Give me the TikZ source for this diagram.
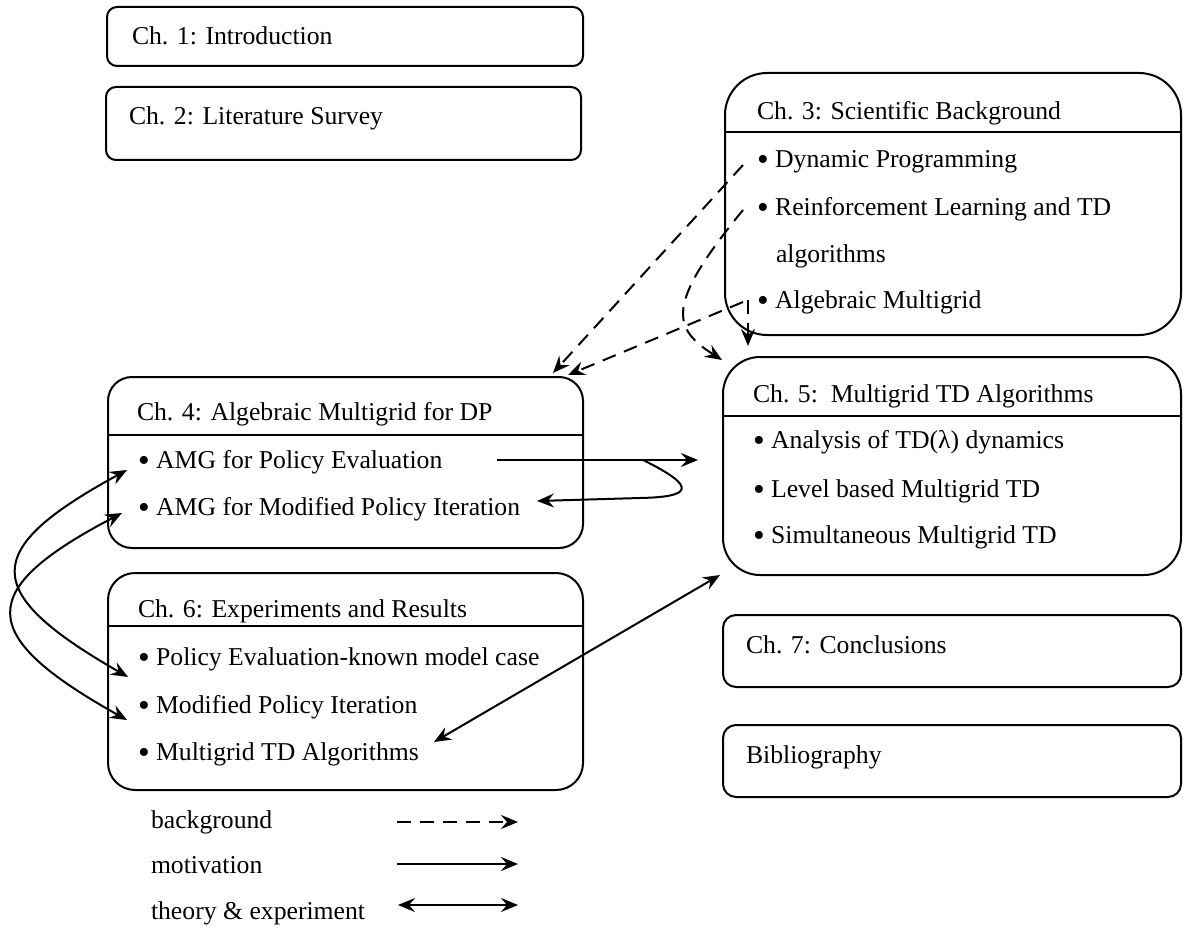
\documentclass[tikz,border=0pt]{standalone}
\usepackage{fontspec}
\setmainfont{Liberation Serif}
\usetikzlibrary{arrows.meta}
\newcommand{\itembul}{\raisebox{-3pt}{\scalebox{1.3}{\textbullet}}\ }
\begin{document}
\begin{tikzpicture}[x=1pt,y=-1pt,
  every node/.style={inner sep=0pt,outer sep=0pt},
  box/.style={draw,line width=2pt},
  txt/.style={anchor=base west,font=\fontsize{25.7}{30}\selectfont},
  conn/.style={line width=2pt,-{Stealth[length=17pt,width=14pt,inset=6pt]}},
  bgconn/.style={conn,dash pattern=on 14pt off 9pt},
  twoway/.style={line width=2pt,{Stealth[length=17pt,width=14pt,inset=6pt]}-{Stealth[length=17pt,width=14pt,inset=6pt]}},
  divider/.style={line width=2pt}
]
\useasboundingbox (0,0) rectangle (1183,928);

% boxes
\node[box,rounded corners=10pt,minimum width=476pt,minimum height=59pt] (ch1) at (345,36.5) {};
\node[box,rounded corners=10pt,minimum width=475pt,minimum height=73pt] (ch2) at (343.5,123.5) {};
\node[box,rounded corners=42pt,minimum width=456pt,minimum height=262pt] (ch3) at (953,204) {};
\node[box,rounded corners=24pt,minimum width=475pt,minimum height=171pt] (ch4) at (345.5,462.5) {};
\node[box,rounded corners=37pt,minimum width=458pt,minimum height=218pt] (ch5) at (952,466) {};
\node[box,rounded corners=27pt,minimum width=475pt,minimum height=217pt] (ch6) at (345.5,681.5) {};
\node[box,rounded corners=13pt,minimum width=458pt,minimum height=72pt] (ch7) at (952,651) {};
\node[box,rounded corners=13pt,minimum width=458pt,minimum height=72pt] (bib) at (952,761) {};

% dividers
\draw[divider] (ch3.west |- 0,132) -- (ch3.east |- 0,132);
\draw[divider] (ch4.west |- 0,435) -- (ch4.east |- 0,435);
\draw[divider] (ch5.west |- 0,416) -- (ch5.east |- 0,416);
\draw[divider] (ch6.west |- 0,626) -- (ch6.east |- 0,626);

% texts
\node[txt] (t1) at (132,45) {Ch. 1: Introduction};
\node[txt] (t2) at (129,125) {Ch. 2: Literature Survey};

\node[txt] (t3) at (757,120) {Ch. 3: Scientific Background};
\node[txt] (t3a) at (757,168) {\itembul Dynamic Programming};
\node[txt] (t3b) at (757,215) {\itembul Reinforcement Learning and TD};
\node[txt] (t3c) at (776,262) {algorithms};
\node[txt] (t3d) at (757,308) {\itembul Algebraic Multigrid};

\node[txt] (t4) at (137,420) {Ch. 4: Algebraic Multigrid for DP};
\node[txt] (t4a) at (138,468) {\itembul AMG for Policy Evaluation};
\node[txt] (t4b) at (138,515) {\itembul AMG for Modified Policy Iteration};

\node[txt] (t5) at (753,402) {Ch. 5:\ \ Multigrid TD Algorithms};
\node[txt] (t5a) at (753,448) {\itembul Analysis of TD(λ) dynamics};
\node[txt] (t5b) at (753,497) {\itembul Level based Multigrid TD};
\node[txt] (t5c) at (753,543) {\itembul Simultaneous Multigrid TD};

\node[txt] (t6) at (138,617) {Ch. 6: Experiments and Results};
\node[txt] (t6a) at (138,665) {\itembul Policy Evaluation-known model case};
\node[txt] (t6b) at (138,713) {\itembul Modified Policy Iteration};
\node[txt] (t6c) at (138,760) {\itembul Multigrid TD Algorithms};

\node[txt] (t7) at (746,653) {Ch. 7: Conclusions};
\node[txt] (tb) at (746,763) {Bibliography};

% legend
\node[txt] (l1) at (151,828) {background};
\node[txt] (l2) at (151,873) {motivation};
\node[txt] (l3) at (151,919) {theory \& experiment};

% connector end points
\coordinate (d1s) at (743,165);
\coordinate (d1e) at (553,373);
\coordinate (d2s) at (743,302);
\coordinate (d2e) at (568,375);
\coordinate (d3s) at (743,210);
\coordinate (d3e) at (722,360);
\coordinate (d4s) at (748,300);
\coordinate (d4e) at (748,346);
\coordinate (m1s) at (497,460);
\coordinate (m1e) at (698,460);
\coordinate (m2s) at (643,460);
\coordinate (m2e) at (537,501);
\coordinate (a1s) at (127,470);
\coordinate (a1e) at (128,677);
\coordinate (a2s) at (122,513);
\coordinate (a2e) at (127,720);
\coordinate (b1s) at (720,575);
\coordinate (b1e) at (434,742);
\coordinate (g1s) at (397,822);
\coordinate (g1e) at (518,822);
\coordinate (g2s) at (397,864);
\coordinate (g2e) at (518,864);
\coordinate (g3s) at (398,905);
\coordinate (g3e) at (518,905);

% background (dashed)
\draw[bgconn] (d1s) -- (d1e);
\draw[bgconn] (d2s) -- (d2e);
\draw[bgconn] (d3s) .. controls (665,305) and (672,328) .. (d3e);
\draw[bgconn] (d4s) -- (d4e);

% motivation
\draw[conn] (m1s) -- (m1e);
\draw[conn] (m2s) .. controls (700,488) and (690,497) .. (640,498) -- (m2e);

% theory & experiment
\draw[twoway] (a1s) .. controls (-20,550) and (-20,592) .. (a1e);
\draw[twoway] (a2s) .. controls (-25,590) and (-25,635) .. (a2e);
\draw[twoway] (b1s) -- (b1e);

% legend arrows
\draw[bgconn] (g1s) -- (g1e);
\draw[conn] (g2s) -- (g2e);
\draw[twoway] (g3s) -- (g3e);
\end{tikzpicture}
\end{document}
